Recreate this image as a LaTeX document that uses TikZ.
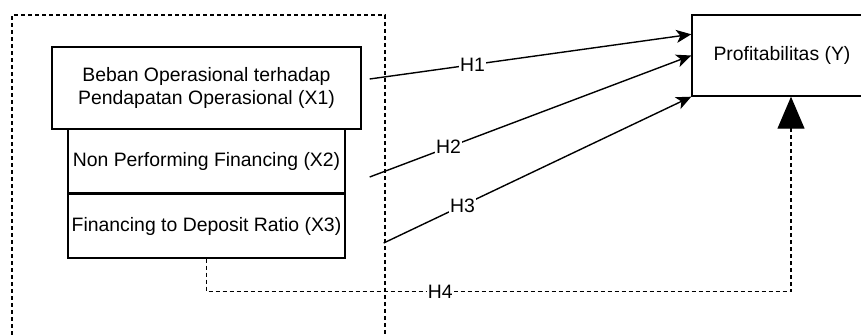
\documentclass[tikz,border=0pt]{standalone}
\usepackage{fontspec}
\setmainfont{Liberation Sans}
\usetikzlibrary{arrows.meta}

\begin{document}
\begin{tikzpicture}[x=1pt, y=1pt, line width=1.4pt, font=\fontsize{19.4}{23}\selectfont, var node/.style={rectangle,draw=black,fill=white,inner sep=0pt,align=center}, hyp label/.style={fill=white,inner sep=1pt}]%
\useasboundingbox (0,0) rectangle (861,336);
\draw[dash pattern=on 4pt off 3pt, line width=1.1pt] (12,-20) |- (385,321) -- (385,-20);
\begin{scope}[every node/.style={var node}]%
\node[minimum width=277pt, minimum height=64pt] (x2) at (206.5,175) {Non Performing Financing (X2)};
\node[minimum width=277pt, minimum height=64pt] (x3) at (206.5,110) {Financing to Deposit Ratio (X3)};
\node[minimum width=309pt, minimum height=82pt] (x1) at (206.5,248) {Beban Operasional terhadap\\Pendapatan Operasional (X1)};
\node[minimum width=180pt, minimum height=81pt] (y) at (782,280.5) {Profitabilitas (Y)};
\end{scope}
\begin{scope}[every edge/.style={draw=black,line width=1.4pt,-{Stealth[length=15pt,width=13pt,inset=4pt]}}]
\draw ([shift={(8pt,9pt)}]x1.east) edge node[hyp label,pos=0.32] {H1} ([yshift=-20pt]y.north west);
\draw ([shift={(24pt,-16pt)}]x2.east) edge node[hyp label,pos=0.245] {H2} (y.west);
\draw ([shift={(38pt,-17pt)}]x3.east) edge node[hyp label,pos=0.256] {H3} (y.south west);
\end{scope}
\draw[dash pattern=on 4pt off 3pt, line width=1.1pt, -{Triangle[length=32pt,width=27pt]}] (x3.south) -- ++(0,-33) -| node[hyp label,pos=0.2] {H4} ([xshift=9pt]y.south);
\end{tikzpicture}
\end{document}
